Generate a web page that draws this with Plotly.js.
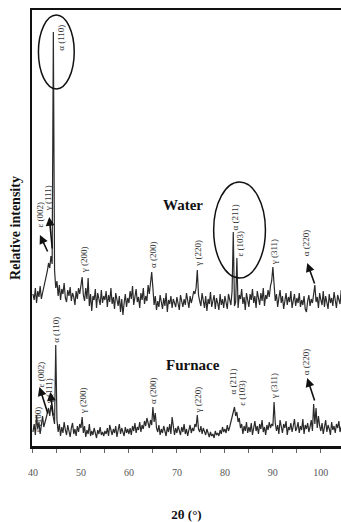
<!DOCTYPE html>
<html>
<head>
<meta charset="utf-8">
<script src="https://cdn.plot.ly/plotly-3.0.1.min.js"></script>
<style>html,body{margin:0;padding:0;background:#fff;}#chart{width:341px;height:522px;}</style>
</head>
<body>
<div id="chart"></div>
<script>
// 2θ sampling grid: 40.00° to 104.00° in 0.25° steps
const scanStart = 40.0;
const scanStep = 0.25;

// Relative intensity, water-quenched sample (offset trace, upper)
const waterIntensity = [
  152,146,158,143,155,149,160,147,153,158,162,168,175,183,178,190,182,414,176,158,
  165,150,161,146,157,152,163,148,144,156,150,159,145,153,149,141,155,147,158,152,
  160,169,151,145,158,147,168,140,152,135,150,146,157,138,153,148,141,156,143,150,
  146,155,139,151,144,158,142,149,137,153,145,140,150,134,147,131,143,152,139,148,
  143,155,147,160,141,152,157,144,149,138,153,146,158,142,150,145,161,152,163,174,
  158,141,150,136,145,139,151,143,137,148,140,153,134,146,142,150,138,147,144,139,
  149,142,136,151,145,139,147,141,153,144,138,150,143,148,155,152,158,176,151,145,
  140,153,146,138,150,135,147,142,154,139,145,151,137,148,143,136,152,141,147,138,
  150,143,137,152,146,141,155,214,140,144,188,138,151,147,157,142,149,136,153,145,
  139,152,146,157,143,150,138,155,147,141,153,145,158,140,151,147,156,149,160,165,
  179,158,145,152,139,148,156,143,150,137,146,153,141,149,144,155,138,147,152,140,
  148,143,153,139,146,141,150,137,134,145,151,140,147,143,152,161,144,149,138,153,
  146,141,155,139,150,144,137,152,143,148,140,154,145,138,151,147,142,156,140,149,
  146
];

// Relative intensity, furnace-cooled sample (lower trace)
const furnaceIntensity = [
  14,22,11,31,17,24,12,20,30,19,25,28,33,38,30,41,35,27,22,101,
  26,14,22,10,19,13,24,16,11,21,15,9,18,23,12,17,10,20,14,22,
  18,29,13,20,9,16,12,22,10,15,11,18,13,8,16,12,19,11,14,10,
  15,12,18,10,21,14,11,17,13,20,9,16,22,12,18,14,10,19,13,17,
  12,18,11,20,15,23,13,19,16,24,14,21,17,25,20,28,22,18,26,21,
  39,24,33,18,14,21,11,17,13,20,15,10,19,14,22,12,29,16,11,18,
  13,20,15,11,19,14,22,12,17,10,16,21,13,18,15,22,19,31,17,14,
  20,12,18,15,11,17,13,9,14,10,12,8,15,11,13,10,16,12,19,14,
  17,13,21,15,19,24,28,35,39,30,34,24,28,18,22,12,20,15,24,13,
  19,14,23,11,18,25,15,20,12,22,17,26,14,19,11,21,16,24,18,22,
  20,44,23,15,21,12,26,17,13,22,18,25,11,19,16,23,14,20,27,15,
  18,24,13,20,16,27,12,21,17,23,14,19,26,15,42,22,38,18,30,20,
  15,23,12,19,26,14,21,17,11,24,16,20,13,22,18,25,14,19,23,16,
  20
];

const tickValues = [40, 50, 60, 70, 80, 90, 100];
const tickLabels = ['40', '50', '60', '70', '80', '90', '100'];
const seriesNames = ['Water', 'Furnace'];

// Peak labels (text) for each pattern
const waterPeakLabels = ['α (110)', 'ε (002)', 'γ (111)', 'γ (200)', 'α (200)', 'γ (220)', 'α (211)', 'ε (103)', 'γ (311)', 'α (220)'];
const furnacePeakLabels = ['ε (100)', 'ε (002)', 'γ (111)', 'α (110)', 'γ (200)', 'α (200)', 'γ (220)', 'α (211)', 'ε (103)', 'γ (311)', 'α (220)'];

const twoTheta = waterIntensity.map((_, i) => +(scanStart + scanStep * i).toFixed(2));

const serif = 'Liberation Serif, Times New Roman, serif';

const traces = [
  {x: twoTheta, y: waterIntensity, name: seriesNames[0], type: 'scatter', mode: 'lines',
   line: {color: '#2a2a2a', width: 1.2}},
  {x: twoTheta, y: furnaceIntensity, name: seriesNames[1], type: 'scatter', mode: 'lines',
   line: {color: '#2a2a2a', width: 1.2}}
];

function lbl(text, x, y) {
  return {text: text, x: x, y: y, xref: 'x', yref: 'y', showarrow: false, textangle: -90,
    xanchor: 'center', yanchor: 'middle', font: {family: serif, size: 9, color: '#333'}};
}
function arrow(hx, hy, tx, ty) {
  return {text: '', x: hx, y: hy, ax: tx, ay: ty, xref: 'x', yref: 'y', axref: 'x', ayref: 'y',
    showarrow: true, arrowhead: 2, arrowsize: 1.1, arrowwidth: 1.6, arrowcolor: '#111'};
}

const wPos = [[45.8,408],[41.56,232],[43.2,248],[50.7,186],[65.0,191],[74.34,193],[82.2,229],[83.05,202],[90.3,194],[96.95,203]];
const fPos = [[41.1,27],[41.76,72],[43.4,55],[44.77,116],[50.5,45],[65.0,55],[74.3,46],[81.6,64],[83.5,53],[90.3,60],[96.95,84]];

const annotations = [];
waterPeakLabels.forEach((t, i) => annotations.push(lbl(t, wPos[i][0], wPos[i][1])));
furnacePeakLabels.forEach((t, i) => annotations.push(lbl(t, fPos[i][0], fPos[i][1])));
annotations.push(arrow(41.45, 211, 43.2, 193));
annotations.push(arrow(43.4, 229, 44.05, 196));
annotations.push(arrow(97.16, 183, 98.8, 161));
annotations.push(arrow(41.35, 59, 43.2, 31));
annotations.push(arrow(43.63, 54, 44.25, 29));
annotations.push(arrow(97.16, 68, 98.8, 44));
annotations.push({text: '<b>' + seriesNames[0] + '</b>', x: 71.2, y: 241, xref: 'x', yref: 'y', showarrow: false,
  font: {family: serif, size: 15, color: '#111'}});
annotations.push({text: '<b>' + seriesNames[1] + '</b>', x: 73.3, y: 81, xref: 'x', yref: 'y', showarrow: false,
  font: {family: serif, size: 15, color: '#111'}});

const shapes = [
  {type: 'circle', xref: 'x', yref: 'y', x0: 41.14, x1: 48.6, y0: 357, y1: 431, line: {color: '#111', width: 1.5}},
  {type: 'circle', xref: 'x', yref: 'y', x0: 77.66, x1: 88.45, y0: 168, y1: 264, line: {color: '#111', width: 1.5}}
];

const layout = {
  width: 341, height: 522,
  margin: {l: 32, r: 0, t: 10, b: 76},
  paper_bgcolor: '#fff', plot_bgcolor: '#fff',
  showlegend: false,
  xaxis: {
    range: [39.8, 104.2], tickvals: tickValues, ticktext: tickLabels,
    ticks: 'outside', ticklen: 4, tickwidth: 1, tickcolor: '#666',
    minor: {tickvals: [45, 55, 65, 75, 85, 95], ticks: 'outside', ticklen: 4, tickcolor: '#666'},
    showline: true, linecolor: '#111', linewidth: 2.5, mirror: true,
    showgrid: false, zeroline: false, ticklabelstandoff: 11,
    tickfont: {family: serif, size: 10, color: '#555'},
    title: {text: '<b>2θ (°)</b>', font: {family: serif, size: 13, color: '#111'}, standoff: 34}
  },
  yaxis: {
    range: [0, 436], showticklabels: false, ticks: '', showgrid: false, zeroline: false,
    showline: true, linecolor: '#111', linewidth: 2.5, mirror: false,
    title: {text: '<b>Relative intensity</b>', font: {family: serif, size: 14, color: '#111'}, standoff: 6}
  },
  annotations: annotations,
  shapes: shapes
};

Plotly.newPlot('chart', traces, layout, {displayModeBar: false, staticPlot: true});
</script>
</body>
</html>
